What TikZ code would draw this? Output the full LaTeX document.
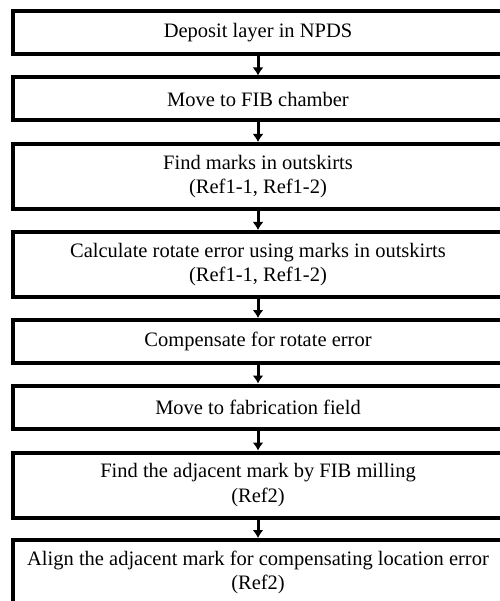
\documentclass[tikz,border=0pt]{standalone}
\usepackage{fontspec}
\setmainfont{Liberation Serif}
\usetikzlibrary{arrows.meta}
\tikzset{
  stepbox/.style={draw,line width=4pt,minimum width=491pt,align=center,inner sep=0pt,
    font=\fontsize{20.5}{24.5}\selectfont},
  onerow/.style={stepbox,minimum height=43pt},
  tworow/.style={stepbox,minimum height=65pt}
}
\begin{document}
\begin{tikzpicture}[x=1pt,y=1pt]
\useasboundingbox (0,0) rectangle (499,-601);
\node[onerow] (S1) at (258,-32.5) {Deposit layer in NPDS};
\node[onerow] (S2) at (258,-99) {Move to FIB chamber};
\node[tworow] (S3) at (258,-176.5) {Find marks in outskirts\\(Ref1-1, Ref1-2)};
\node[tworow] (S4) at (258,-264.5) {Calculate rotate error using marks in outskirts\\(Ref1-1, Ref1-2)};
\node[onerow] (S5) at (258,-341.5) {Compensate for rotate error};
\node[onerow] (S6) at (258,-407) {Move to fabrication field};
\node[tworow] (S7) at (258,-485) {Find the adjacent mark by FIB milling\\(Ref2)};
\node[tworow] (S8) at (258,-572.5) {Align the adjacent mark for compensating location error\\(Ref2)};
\draw[->,>={Latex[length=8pt,width=11pt]},line width=3pt] (S1) -- (S2);
\draw[->,>={Latex[length=8pt,width=11pt]},line width=3pt] (S2) -- (S3);
\draw[->,>={Latex[length=8pt,width=11pt]},line width=3pt] (S3) -- (S4);
\draw[->,>={Latex[length=8pt,width=11pt]},line width=3pt] (S4) -- (S5);
\draw[->,>={Latex[length=8pt,width=11pt]},line width=3pt] (S5) -- (S6);
\draw[->,>={Latex[length=8pt,width=11pt]},line width=3pt] (S6) -- (S7);
\draw[->,>={Latex[length=8pt,width=11pt]},line width=3pt] (S7) -- (S8);
\end{tikzpicture}
\end{document}
